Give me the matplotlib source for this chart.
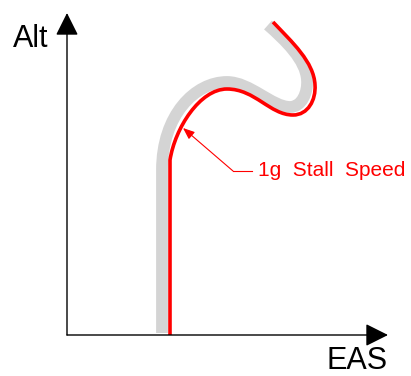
import matplotlib
matplotlib.use("Agg")
import matplotlib.pyplot as plt
from matplotlib.path import Path
from matplotlib.patches import PathPatch

plt.rcParams['font.family'] = ['Liberation Sans', 'DejaVu Sans']

# Envelope boundary (grey band) - vertical leg then Bezier control points
band_eas = [95, 95, 95, 95, 128, 160, 183, 205, 223, 235, 241, 240, 239, 218, 201]
band_alt = [2, 165, 165, 220, 253, 253, 253, 228, 228, 228, 243, 255, 275, 295, 310]

# 1g stall speed line (red)
stall_eas = [103, 103, 108, 133, 160, 188, 203, 226, 241, 249, 248, 247, 225, 206]
stall_alt = [0, 175, 207, 246, 246, 246, 220, 220, 220, 235, 250, 273, 293, 313]

# Annotation: arrow tip, elbow and label position
label_text = "1g  Stall  Speed"
label_tip = (116, 207)
label_elbow = (166, 164)
label_start = (185, 164)

fig = plt.figure(figsize=(4.11, 3.76), dpi=100)
ax = fig.add_axes([0, 0, 1, 1])
ax.set_xlim(-67, 344)
ax.set_ylim(-41, 335)
ax.axis('off')


def bezier_path(xs, ys, n_lines):
    # n_lines straight points, remainder are cubic Bezier triples
    codes = [Path.MOVETO] + [Path.LINETO] * (n_lines - 1)
    codes += [Path.CURVE4] * (len(xs) - n_lines)
    return Path(list(zip(xs, ys)), codes)


ax.add_patch(PathPatch(bezier_path(band_eas, band_alt, 3), fill=False,
                       edgecolor='#d4d4d4', lw=8.5, capstyle='butt',
                       joinstyle='round'))
ax.add_patch(PathPatch(bezier_path(stall_eas, stall_alt, 2), fill=False,
                       edgecolor='#ff0000', lw=2.6, capstyle='butt',
                       joinstyle='round'))

# Axes with arrowheads
ax.annotate('', xy=(321, 0), xytext=(0, 0),
            arrowprops=dict(arrowstyle='-|>,head_length=0.4,head_width=0.2',
                            mutation_scale=35, lw=1, color='black',
                            shrinkA=0, shrinkB=0))
ax.annotate('', xy=(0, 322), xytext=(0, 0),
            arrowprops=dict(arrowstyle='-|>,head_length=0.4,head_width=0.2',
                            mutation_scale=35, lw=1, color='black',
                            shrinkA=0, shrinkB=0))
ax.text(-54, 296, "Alt", fontsize=22, ha='left', va='center')
ax.text(321, -26, "EAS", fontsize=22, ha='right', va='center')

# Callout for the stall speed line
ax.plot([label_start[0], label_elbow[0]], [label_start[1], label_elbow[1]],
        color='red', lw=0.8)
ax.annotate('', xy=label_tip, xytext=label_elbow,
            arrowprops=dict(arrowstyle='-|>,head_length=0.5,head_width=0.2',
                            mutation_scale=14, lw=0.8, color='red',
                            shrinkA=0, shrinkB=0))
ax.text(label_start[0] + 6, label_start[1], label_text, fontsize=15,
        color='red', ha='left', va='center')

fig.savefig("out.png", dpi=100)
